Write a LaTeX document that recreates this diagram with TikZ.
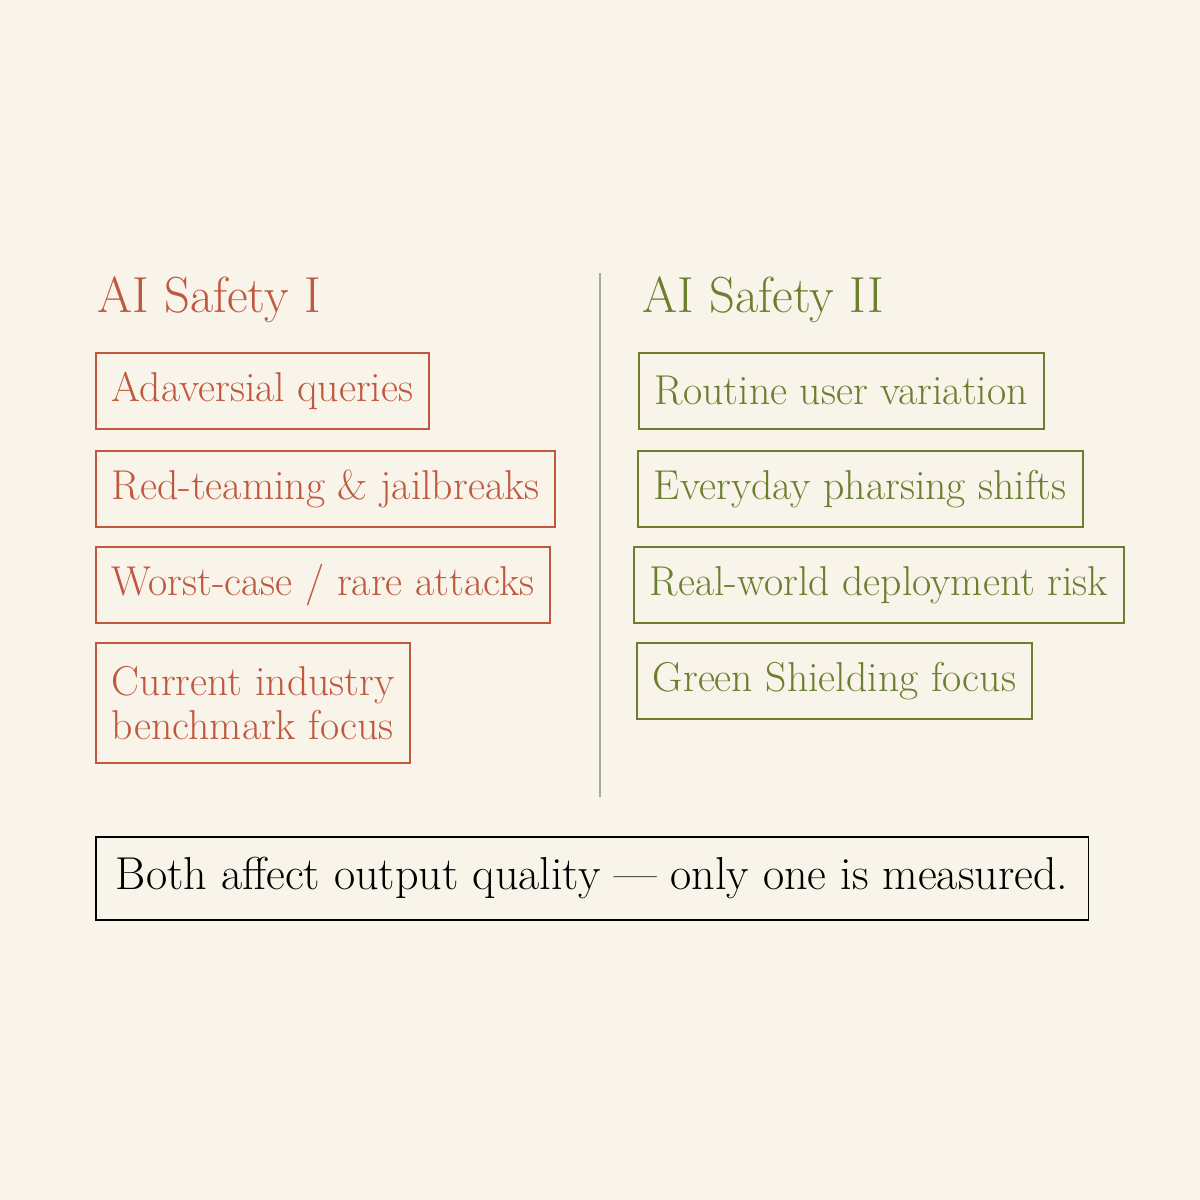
\documentclass[tikz,border=0pt]{standalone}
\usepackage{fontspec}
\definecolor{bg}{HTML}{F8F4EA}
\definecolor{rd}{HTML}{C0583F}
\definecolor{gr}{HTML}{6B7F2E}
\tikzset{
 box/.style={draw, line width=1.4pt, anchor=north west, inner xsep=12pt, minimum height=57pt, align=left, font=\fontsize{31.3}{33}\selectfont},
 redbox/.style={box, draw=rd, text=rd},
 greenbox/.style={box, draw=gr, text=gr},
 ttl/.style={anchor=west, inner sep=0pt, font=\fontsize{38}{44}\selectfont}
}
\begin{document}
\begin{tikzpicture}[x=0.75pt,y=-0.75pt]
\fill[bg] (0,0) rectangle (1200,1200);
\useasboundingbox (0,0) rectangle (1200,1200);
\node[ttl, text=rd] (t1) at (97,300) {AI Safety I};
\node[ttl, text=gr] (t2) at (642,300) {AI Safety II};
\draw[gray!70, line width=1pt] (600,273) coordinate (d1) -- (600,797) coordinate (d2);
\node[redbox] (r1) at (95,352) {Adaversial queries};
\node[redbox] (r2) at (95,450) {Red-teaming \& jailbreaks};
\node[redbox] (r3) at (95,546) {Worst-case / rare attacks};
\node[redbox, minimum height=90pt] (r4) at (95,642) {Current industry\\benchmark focus};
\node[greenbox] (g1) at (638,352) {Routine user variation};
\node[greenbox] (g2) at (637,450) {Everyday pharsing shifts};
\node[greenbox] (g3) at (633,546) {Real-world deployment risk};
\node[greenbox] (g4) at (636,642) {Green Shielding focus};
\node[box, draw=black, text=black, minimum height=62pt, inner xsep=15pt, font=\fontsize{34.6}{38}\selectfont] (b) at (95,836) {Both affect output quality --- only one is measured.};
\end{tikzpicture}
\end{document}
